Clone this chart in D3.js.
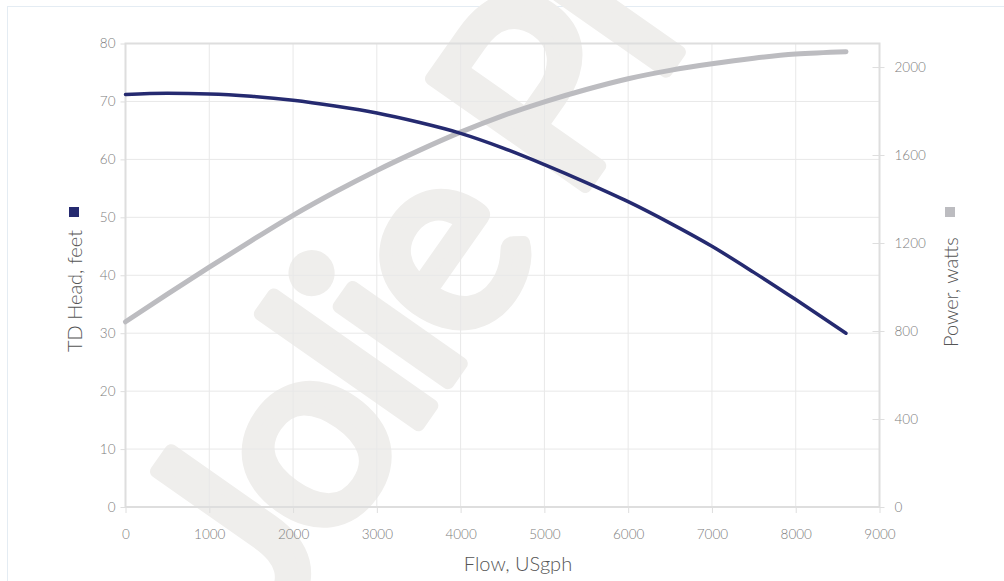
<!DOCTYPE html>
<html>
<head>
<meta charset="utf-8">
<script src="https://cdn.jsdelivr.net/npm/d3@7"></script>
<style>
  body { margin: 0; background: #fff; }
  svg { display: block; }
  .tick text { font-family: Lato, "Open Sans", sans-serif; font-weight: 300; font-size: 13.5px; }
  .title { font-family: Lato, "Open Sans", sans-serif; font-weight: 300; fill: #555; font-size: 20px; }
</style>
</head>
<body>
<div id="chart"></div>
<script>
// pump curve
let flow  = [0, 500, 1000, 1500, 2000, 2500, 3000, 3500, 4000, 4500, 5000, 5500, 6000, 6500, 7000, 7500, 8000, 8600];
let head  = [71.2, 71.4, 71.3, 70.9, 70.2, 69.2, 68.0, 66.4, 64.5, 62.0, 59.1, 56.0, 52.7, 49.0, 45.0, 40.5, 35.8, 30.0];
let power = [842, 968, 1090, 1210, 1326, 1432, 1530, 1620, 1704, 1778, 1842, 1898, 1947, 1985, 2015, 2040, 2059, 2070];

let xTicks = [0, 1000, 2000, 3000, 4000, 5000, 6000, 7000, 8000, 9000];
let headTicks = [0, 10, 20, 30, 40, 50, 60, 70, 80];
let powerTicks = [0, 400, 800, 1200, 1600, 2000];

let width = 1004, height = 581;
let pLeft = 125.5, pRight = 879.5, pTop = 43.5, pBottom = 507;

let svg = d3.select("#chart").append("svg")
    .attr("width", width)
    .attr("height", height);

// outer frame
svg.append("rect")
    .attr("x", 7.5).attr("y", 6.5)
    .attr("width", 1020).attr("height", 600)
    .attr("fill", "none")
    .attr("stroke", "#e4ecf3");

let x = d3.scaleLinear().domain([0, 9000]).range([pLeft, pRight]);
let yHead = d3.scaleLinear().domain([0, 80]).range([pBottom, pTop]);
let yPower = d3.scaleLinear().domain([0, 2107]).range([pBottom, pTop]);

// watermark
svg.append("text")
    .attr("transform", "translate(274,631) rotate(-55)")
    .attr("font-family", "Lato, 'Open Sans', sans-serif")
    .attr("font-size", 262)
    .attr("letter-spacing", -11)
    .attr("fill", "#efeeec")
    .attr("stroke", "#efeeec")
    .attr("stroke-width", 13)
    .attr("stroke-linejoin", "round")
    .text("Jolie Pl");

// grid
let grid = svg.append("g").attr("stroke", "#e8e8e8").attr("stroke-width", 1);
grid.selectAll(".h").data(headTicks).enter().append("line")
    .attr("x1", pLeft).attr("x2", pRight)
    .attr("y1", d => yHead(d)).attr("y2", d => yHead(d));
grid.selectAll(".v").data(xTicks).enter().append("line")
    .attr("y1", pTop).attr("y2", pBottom)
    .attr("x1", d => x(d)).attr("x2", d => x(d));

// axes
let fmt = d3.format("d");
let axL = svg.append("g").attr("transform", `translate(${pLeft},0)`)
    .call(d3.axisLeft(yHead).tickValues(headTicks).tickFormat(fmt).tickSize(5).tickPadding(5));
let axB = svg.append("g").attr("transform", `translate(0,${pBottom})`)
    .call(d3.axisBottom(x).tickValues(xTicks).tickFormat(fmt).tickSize(6).tickPadding(16));
let axR = svg.append("g").attr("transform", `translate(${pRight},0)`)
    .call(d3.axisRight(yPower).tickValues(powerTicks).tickFormat(fmt).tickSize(5).tickPadding(10));
axR.selectAll(".tick line").attr("x1", -7);

[axL, axB, axR].forEach(a => {
    a.select(".domain").remove();
    a.selectAll(".tick line").attr("stroke", "#dedede");
    a.selectAll(".tick text").attr("fill", "#7d7d7d");
});

// plot frame
svg.append("rect")
    .attr("x", pLeft).attr("y", pTop)
    .attr("width", pRight - pLeft).attr("height", pBottom - pTop)
    .attr("fill", "none")
    .attr("stroke", "#dedede")
    .attr("stroke-width", 2);

// lines
let pts = flow.map((f, i) => ({f: f, h: head[i], p: power[i]}));

svg.append("path")
    .datum(pts)
    .attr("fill", "none")
    .attr("stroke", "#bcbcc0")
    .attr("stroke-width", 5)
    .attr("stroke-linecap", "round")
    .attr("d", d3.line().curve(d3.curveMonotoneX).x(d => x(d.f)).y(d => yPower(d.p)));

svg.append("path")
    .datum(pts)
    .attr("fill", "none")
    .attr("stroke", "#252a70")
    .attr("stroke-width", 3.5)
    .attr("stroke-linecap", "round")
    .attr("d", d3.line().curve(d3.curveMonotoneX).x(d => x(d.f)).y(d => yHead(d.h)));

// titles
svg.append("text").attr("class", "title")
    .attr("x", 518).attr("y", 571)
    .attr("text-anchor", "middle")
    .text("Flow, USgph");

svg.append("text").attr("class", "title")
    .attr("transform", "translate(82,352) rotate(-90)")
    .text("TD Head, feet");
svg.append("rect")
    .attr("x", 69).attr("y", 207).attr("width", 10).attr("height", 10)
    .attr("fill", "#252a70");

svg.append("text").attr("class", "title")
    .attr("transform", "translate(958,347) rotate(-90)")
    .text("Power, watts");
svg.append("rect")
    .attr("x", 945).attr("y", 207).attr("width", 10).attr("height", 10)
    .attr("fill", "#bcbcc0");
</script>
</body>
</html>
